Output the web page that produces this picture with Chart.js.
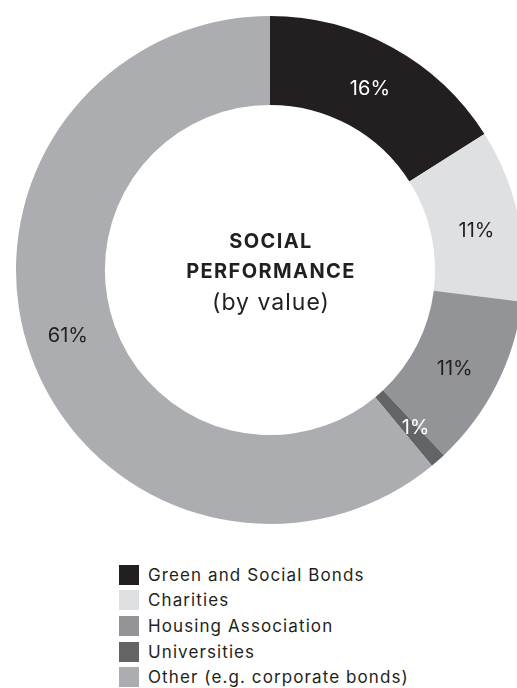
<!DOCTYPE html>
<html>
<head>
<meta charset="utf-8">
<script src="https://cdn.jsdelivr.net/npm/chart.js@4/dist/chart.umd.min.js"></script>
<style>
  html, body { margin: 0; padding: 0; background: #fff; overflow: hidden; width: 517px; height: 688px; }
  #wrap { position: absolute; left: 0; top: 0; width: 540px; height: 540px; }
  #legend { position: absolute; left: 119px; top: 562px; font-family: "Inter", "Noto Sans", sans-serif; font-size: 17px; letter-spacing: 1.1px; color: #231f20; }
  .row { display: flex; align-items: center; height: 25.6px; }
  .box { width: 20px; height: 20px; margin-right: 9px; flex: none; }
</style>
</head>
<body>
<div id="wrap"><canvas id="c"></canvas></div>
<div id="legend"></div>
<script>
const categories = ["Green and Social Bonds", "Charities", "Housing Association", "Universities", "Other (e.g. corporate bonds)"];
const shares = [16, 11, 11, 1, 61];
const sliceColors = ["#231f20", "#dfe0e2", "#929497", "#636466", "#acadb0"];
const labelColors = ["#ffffff", "#231f20", "#231f20", "#ffffff", "#231f20"];
const centerLines = ["SOCIAL", "PERFORMANCE", "(by value)"];

// Small hand nudges (px) for the percentage labels around the ring
const labelNudge = [[-1, 3], [2, 7], [-2, 4], [7, 1], [-5, -5]];

// Legend list under the ring
const legend = document.getElementById("legend");
categories.forEach((name, i) => {
  const row = document.createElement("div");
  row.className = "row";
  const box = document.createElement("span");
  box.className = "box";
  box.style.background = sliceColors[i];
  const txt = document.createElement("span");
  txt.textContent = name;
  row.appendChild(box);
  row.appendChild(txt);
  legend.appendChild(row);
});

const FONT = '"Inter", "Noto Sans", sans-serif';

const sliceLabels = {
  id: "sliceLabels",
  afterDatasetsDraw(chart) {
    const ctx = chart.ctx;
    const meta = chart.getDatasetMeta(0);
    ctx.save();
    ctx.textAlign = "center";
    ctx.textBaseline = "middle";
    ctx.font = "20px " + FONT;
    ctx.letterSpacing = "0px";
    meta.data.forEach((arc, i) => {
      const p = arc.tooltipPosition();
      ctx.fillStyle = labelColors[i];
      ctx.fillText(shares[i] + "%", p.x + labelNudge[i][0], p.y + labelNudge[i][1]);
    });
    // centre title
    const cx = (chart.chartArea.left + chart.chartArea.right) / 2;
    const cy = (chart.chartArea.top + chart.chartArea.bottom) / 2;
    ctx.fillStyle = "#231f20";
    ctx.font = "bold 20px " + FONT;
    ctx.letterSpacing = "1.4px";
    ctx.fillText(centerLines[0], cx + 1, cy - 28);
    ctx.fillText(centerLines[1], cx + 1, cy + 2);
    ctx.font = "23px " + FONT;
    ctx.letterSpacing = "1px";
    ctx.fillText(centerLines[2], cx + 1, cy + 33);
    ctx.restore();
  }
};

new Chart(document.getElementById("c"), {
  type: "doughnut",
  data: {
    labels: categories,
    datasets: [{
      data: shares,
      backgroundColor: sliceColors,
      borderWidth: 0
    }]
  },
  options: {
    responsive: true,
    maintainAspectRatio: false,
    animation: false,
    cutout: "65%",
    layout: { padding: 16 },
    plugins: {
      legend: { display: false },
      tooltip: { enabled: false }
    }
  },
  plugins: [sliceLabels]
});
</script>
</body>
</html>
